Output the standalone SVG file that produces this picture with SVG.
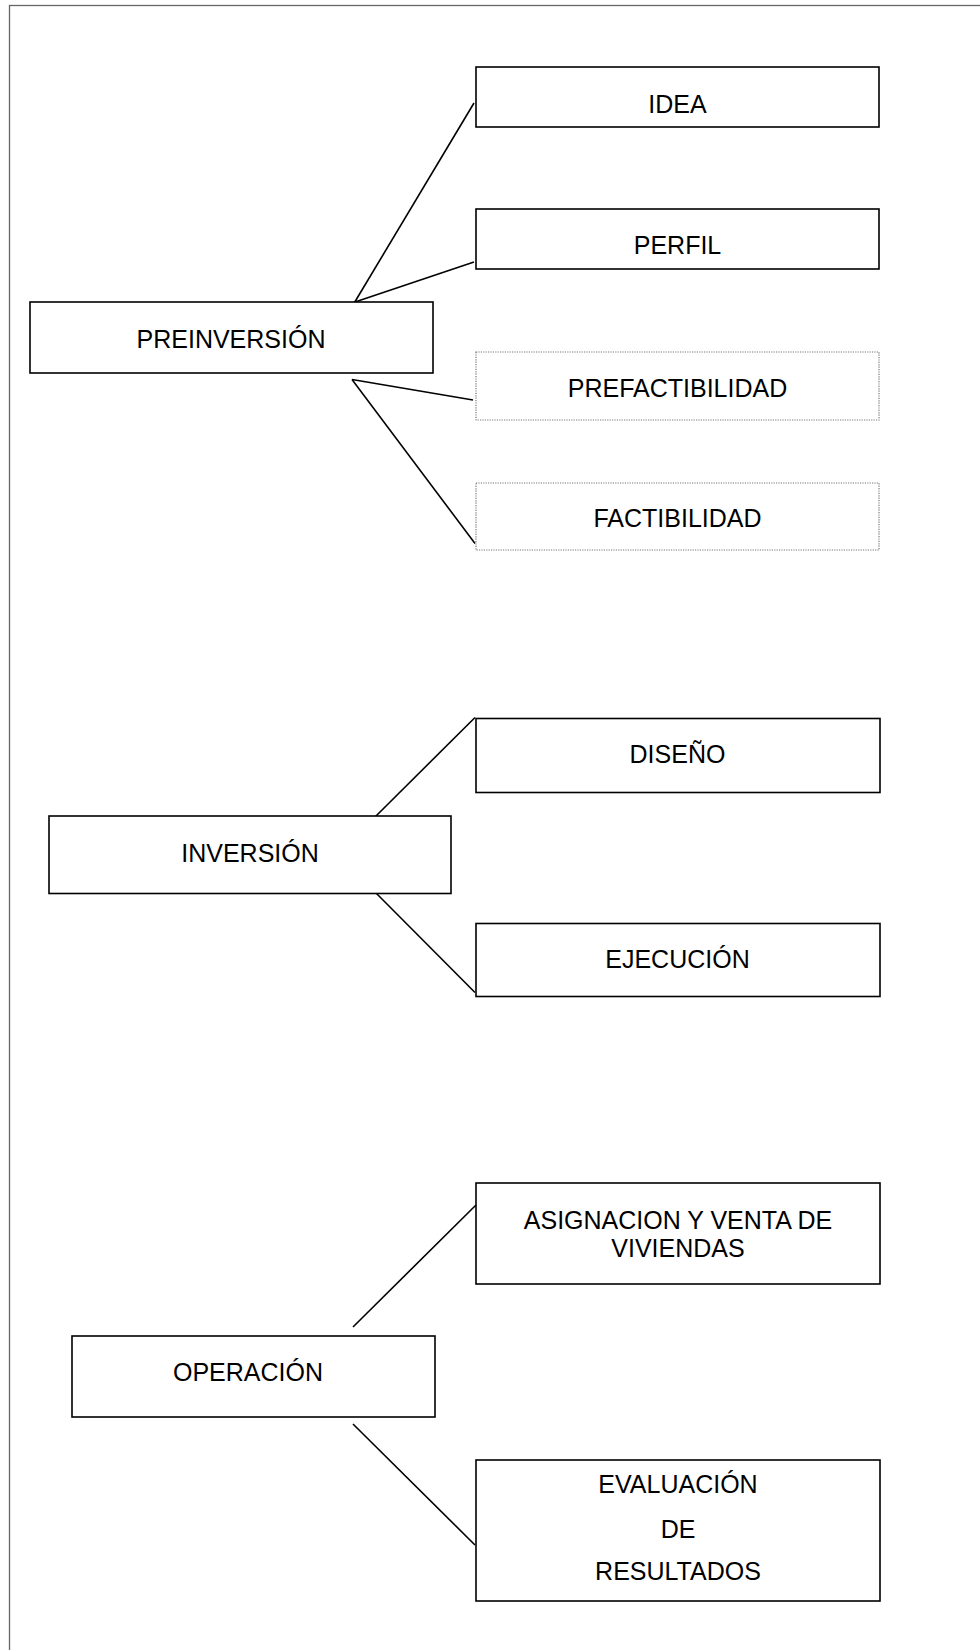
<svg xmlns="http://www.w3.org/2000/svg" width="980" height="1650" viewBox="0 0 980 1650">
<style>
.box{fill:#fff;stroke:#000;stroke-width:1.6}
.dot{fill:#fff;stroke:#777;stroke-width:1.2;stroke-dasharray:1.2 1.2}
.t{font-family:"Liberation Sans",Arial,sans-serif;font-size:25px;fill:#000;text-anchor:middle}
.c{stroke:#000;stroke-width:1.6;fill:none}
</style>
<rect x="9.5" y="5.5" width="1000" height="1700" fill="none" stroke="#666" stroke-width="1.3"/>
<g id="connectors">
<line class="c" x1="353" y1="305" x2="474" y2="103"/>
<line class="c" x1="355" y1="302" x2="474" y2="262"/>
<line class="c" x1="352" y1="379.5" x2="473" y2="400"/>
<line class="c" x1="352" y1="379.5" x2="475" y2="543.5"/>
<line class="c" x1="374" y1="818" x2="475" y2="717.5"/>
<line class="c" x1="374" y1="891" x2="475" y2="992.5"/>
<line class="c" x1="353" y1="1327" x2="476" y2="1205"/>
<line class="c" x1="353" y1="1424" x2="475" y2="1545"/>
</g>
<g id="idea"><rect class="box" x="476" y="67" width="403" height="60"/><text class="t" x="677.5" y="112.7">IDEA</text></g>
<g id="perfil"><rect class="box" x="476" y="209" width="403" height="60"/><text class="t" x="677.5" y="254.3">PERFIL</text></g>
<g id="preinversion"><rect class="box" x="30" y="302" width="403" height="71"/><text class="t" x="231" y="347.7">PREINVERSIÓN</text></g>
<g id="prefactibilidad"><rect class="dot" x="476" y="352" width="403" height="68"/><text class="t" x="677.5" y="396.7">PREFACTIBILIDAD</text></g>
<g id="factibilidad"><rect class="dot" x="476" y="483" width="403" height="67"/><text class="t" x="677.5" y="526.7">FACTIBILIDAD</text></g>
<g id="diseno"><rect class="box" x="476" y="718.5" width="404" height="74"/><text class="t" x="677.5" y="763.3">DISEÑO</text></g>
<g id="inversion"><rect class="box" x="49" y="816" width="402" height="77.5"/><text class="t" x="250" y="862.3">INVERSIÓN</text></g>
<g id="ejecucion"><rect class="box" x="476" y="923.5" width="404" height="73"/><text class="t" x="677.5" y="968.3">EJECUCIÓN</text></g>
<g id="asignacion"><rect class="box" x="476" y="1183" width="404" height="101"/><text class="t" x="678" y="1229.3">ASIGNACION Y VENTA DE</text><text class="t" x="678" y="1257.3">VIVIENDAS</text></g>
<g id="operacion"><rect class="box" x="72" y="1336" width="363" height="81"/><text class="t" x="248" y="1380.7">OPERACIÓN</text></g>
<g id="evaluacion"><rect class="box" x="476" y="1460" width="404" height="141"/><text class="t" x="678" y="1493.3">EVALUACIÓN</text><text class="t" x="678" y="1537.7">DE</text><text class="t" x="678" y="1580">RESULTADOS</text></g>
</svg>
